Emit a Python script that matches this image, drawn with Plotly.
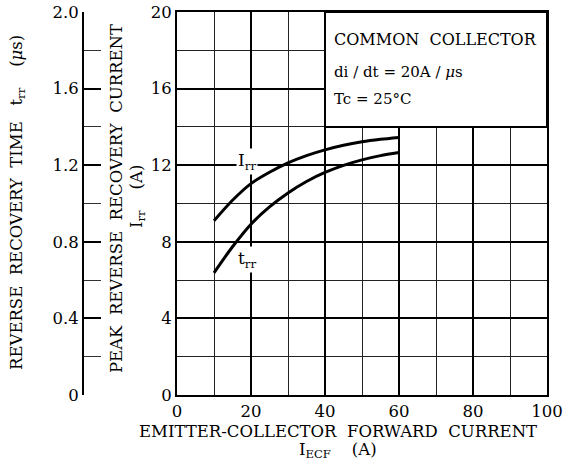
import plotly.graph_objects as go

# Data
iecf = [10, 15, 20, 25, 30, 35, 40, 45, 50, 55, 60]
irr = [9.10, 10.17, 11.04, 11.63, 12.12, 12.50, 12.80, 13.04, 13.22, 13.35, 13.45]
trr = [0.638, 0.774, 0.892, 0.982, 1.055, 1.115, 1.162, 1.199, 1.228, 1.250, 1.266]

x_ticks = [0, 20, 40, 60, 80, 100]
irr_ticks = [0, 4, 8, 12, 16, 20]
trr_ticks = [0, 0.4, 0.8, 1.2, 1.6, 2.0]
trr_tick_text = ["0", "0.4", "0.8", "1.2", "1.6", "2.0"]

FONT = "DejaVu Serif"
W, H = 563, 465
ML, MR, MT, MB = 83, 16, 12, 70
PW, PH = W - ML - MR, H - MT - MB
x0dom = (177 - ML) / PW


def px(xpix):
    return (xpix - ML) / PW


def py(ypix):
    return 1 - (ypix - MT) / PH


fig = go.Figure()
fig.add_trace(go.Scatter(x=iecf, y=irr, mode="lines", line=dict(color="black", width=3, shape="spline", smoothing=0.8),
                         yaxis="y", showlegend=False, hoverinfo="skip"))
fig.add_trace(go.Scatter(x=iecf, y=trr, mode="lines", line=dict(color="black", width=3, shape="spline", smoothing=0.8),
                         yaxis="y2", showlegend=False, hoverinfo="skip"))

fig.update_layout(
    width=W, height=H,
    margin=dict(l=ML, r=MR, t=MT, b=MB, autoexpand=False),
    paper_bgcolor="white", plot_bgcolor="white",
    font=dict(family=FONT, color="black", size=16),
    xaxis=dict(domain=[x0dom, 1], range=[0, 100], tickvals=x_ticks, showgrid=True, automargin=False,
               gridcolor="black", gridwidth=1.6, showline=True, linecolor="black", linewidth=2,
               mirror=True, ticks="", zeroline=False, tickfont=dict(size=16.5),
               minor=dict(dtick=10, showgrid=True, gridcolor="#222", gridwidth=1)),
    yaxis=dict(range=[0, 20], tickvals=irr_ticks, showgrid=True, gridcolor="black", gridwidth=1.6,
               showline=True, linecolor="black", linewidth=2, mirror=True, ticks="", automargin=False,
               zeroline=False, tickfont=dict(size=16.5), anchor="x",
               minor=dict(dtick=2, showgrid=True, gridcolor="#222", gridwidth=1)),
    yaxis2=dict(range=[0, 2.0], overlaying="y", anchor="free", position=0, side="left", automargin=False,
                tickvals=trr_ticks, ticktext=trr_tick_text, showgrid=False, zeroline=False,
                showline=True, linecolor="black", linewidth=2, ticks="inside", ticklen=17,
                tickwidth=2, tickcolor="black", tickfont=dict(size=16.5),
                minor=dict(dtick=0.2, ticks="inside", ticklen=17, tickwidth=1, tickcolor="#333")),
)

# condition box
fig.add_shape(type="rect", xref="x", yref="y", x0=40, x1=100, y0=14, y1=20,
              fillcolor="white", line=dict(color="black", width=2), layer="above")

C = dict(showarrow=False, xanchor="center", yanchor="middle")
anns = [
    dict(x=41.8, y=18.54, xref="x", yref="y", text="COMMON  COLLECTOR", xanchor="left", yanchor="middle",
         showarrow=False, font=dict(size=16)),
    dict(x=41.8, y=16.87, xref="x", yref="y", text="di / dt = 20A / <i>μ</i>s", xanchor="left", yanchor="middle",
         showarrow=False, font=dict(size=15)),
    dict(x=41.8, y=15.46, xref="x", yref="y", text="Tc = 25°C", xanchor="left", yanchor="middle",
         showarrow=False, font=dict(size=15)),
    dict(x=18.8, y=12.17, xref="x", yref="y", text="I<sub>rr</sub>", bgcolor="white",
         font=dict(size=17), **C),
    dict(x=19.0, y=7.05, xref="x", yref="y", text="t<sub>rr</sub>", bgcolor="white",
         font=dict(size=17), **C),
    dict(x=px(18), y=py(203), xref="paper", yref="paper",
         text="REVERSE  RECOVERY  TIME   t<sub>rr</sub>    (<i>μ</i>s)",
         textangle=-90, font=dict(size=16.5), **C),
    dict(x=px(116), y=py(199), xref="paper", yref="paper", text="PEAK  REVERSE  RECOVERY  CURRENT",
         textangle=-90, font=dict(size=16.5), **C),
    dict(x=px(137), y=py(197), xref="paper", yref="paper", text="I<sub>rr</sub>    (A)",
         textangle=-90, font=dict(size=16.5), **C),
    dict(x=px(338), y=py(431), xref="paper", yref="paper", text="EMITTER-COLLECTOR  FORWARD  CURRENT",
         font=dict(size=16.5), **C),
    dict(x=px(338), y=py(450), xref="paper", yref="paper", text="I<sub>ECF</sub>    (A)",
         font=dict(size=16.5), **C),
    dict(x=px(360), y=py(4), xref="paper", yref="paper", xanchor="center", yanchor="bottom",
         text="I<sub>rr</sub>, t<sub>rr</sub> — I<sub>ECF</sub>", showarrow=False, font=dict(size=16)),
]
fig.update_layout(annotations=anns)

fig.write_html("out.html", config={"displayModeBar": False},
               post_script="document.body.style.margin='0';document.body.style.overflow='hidden';")
